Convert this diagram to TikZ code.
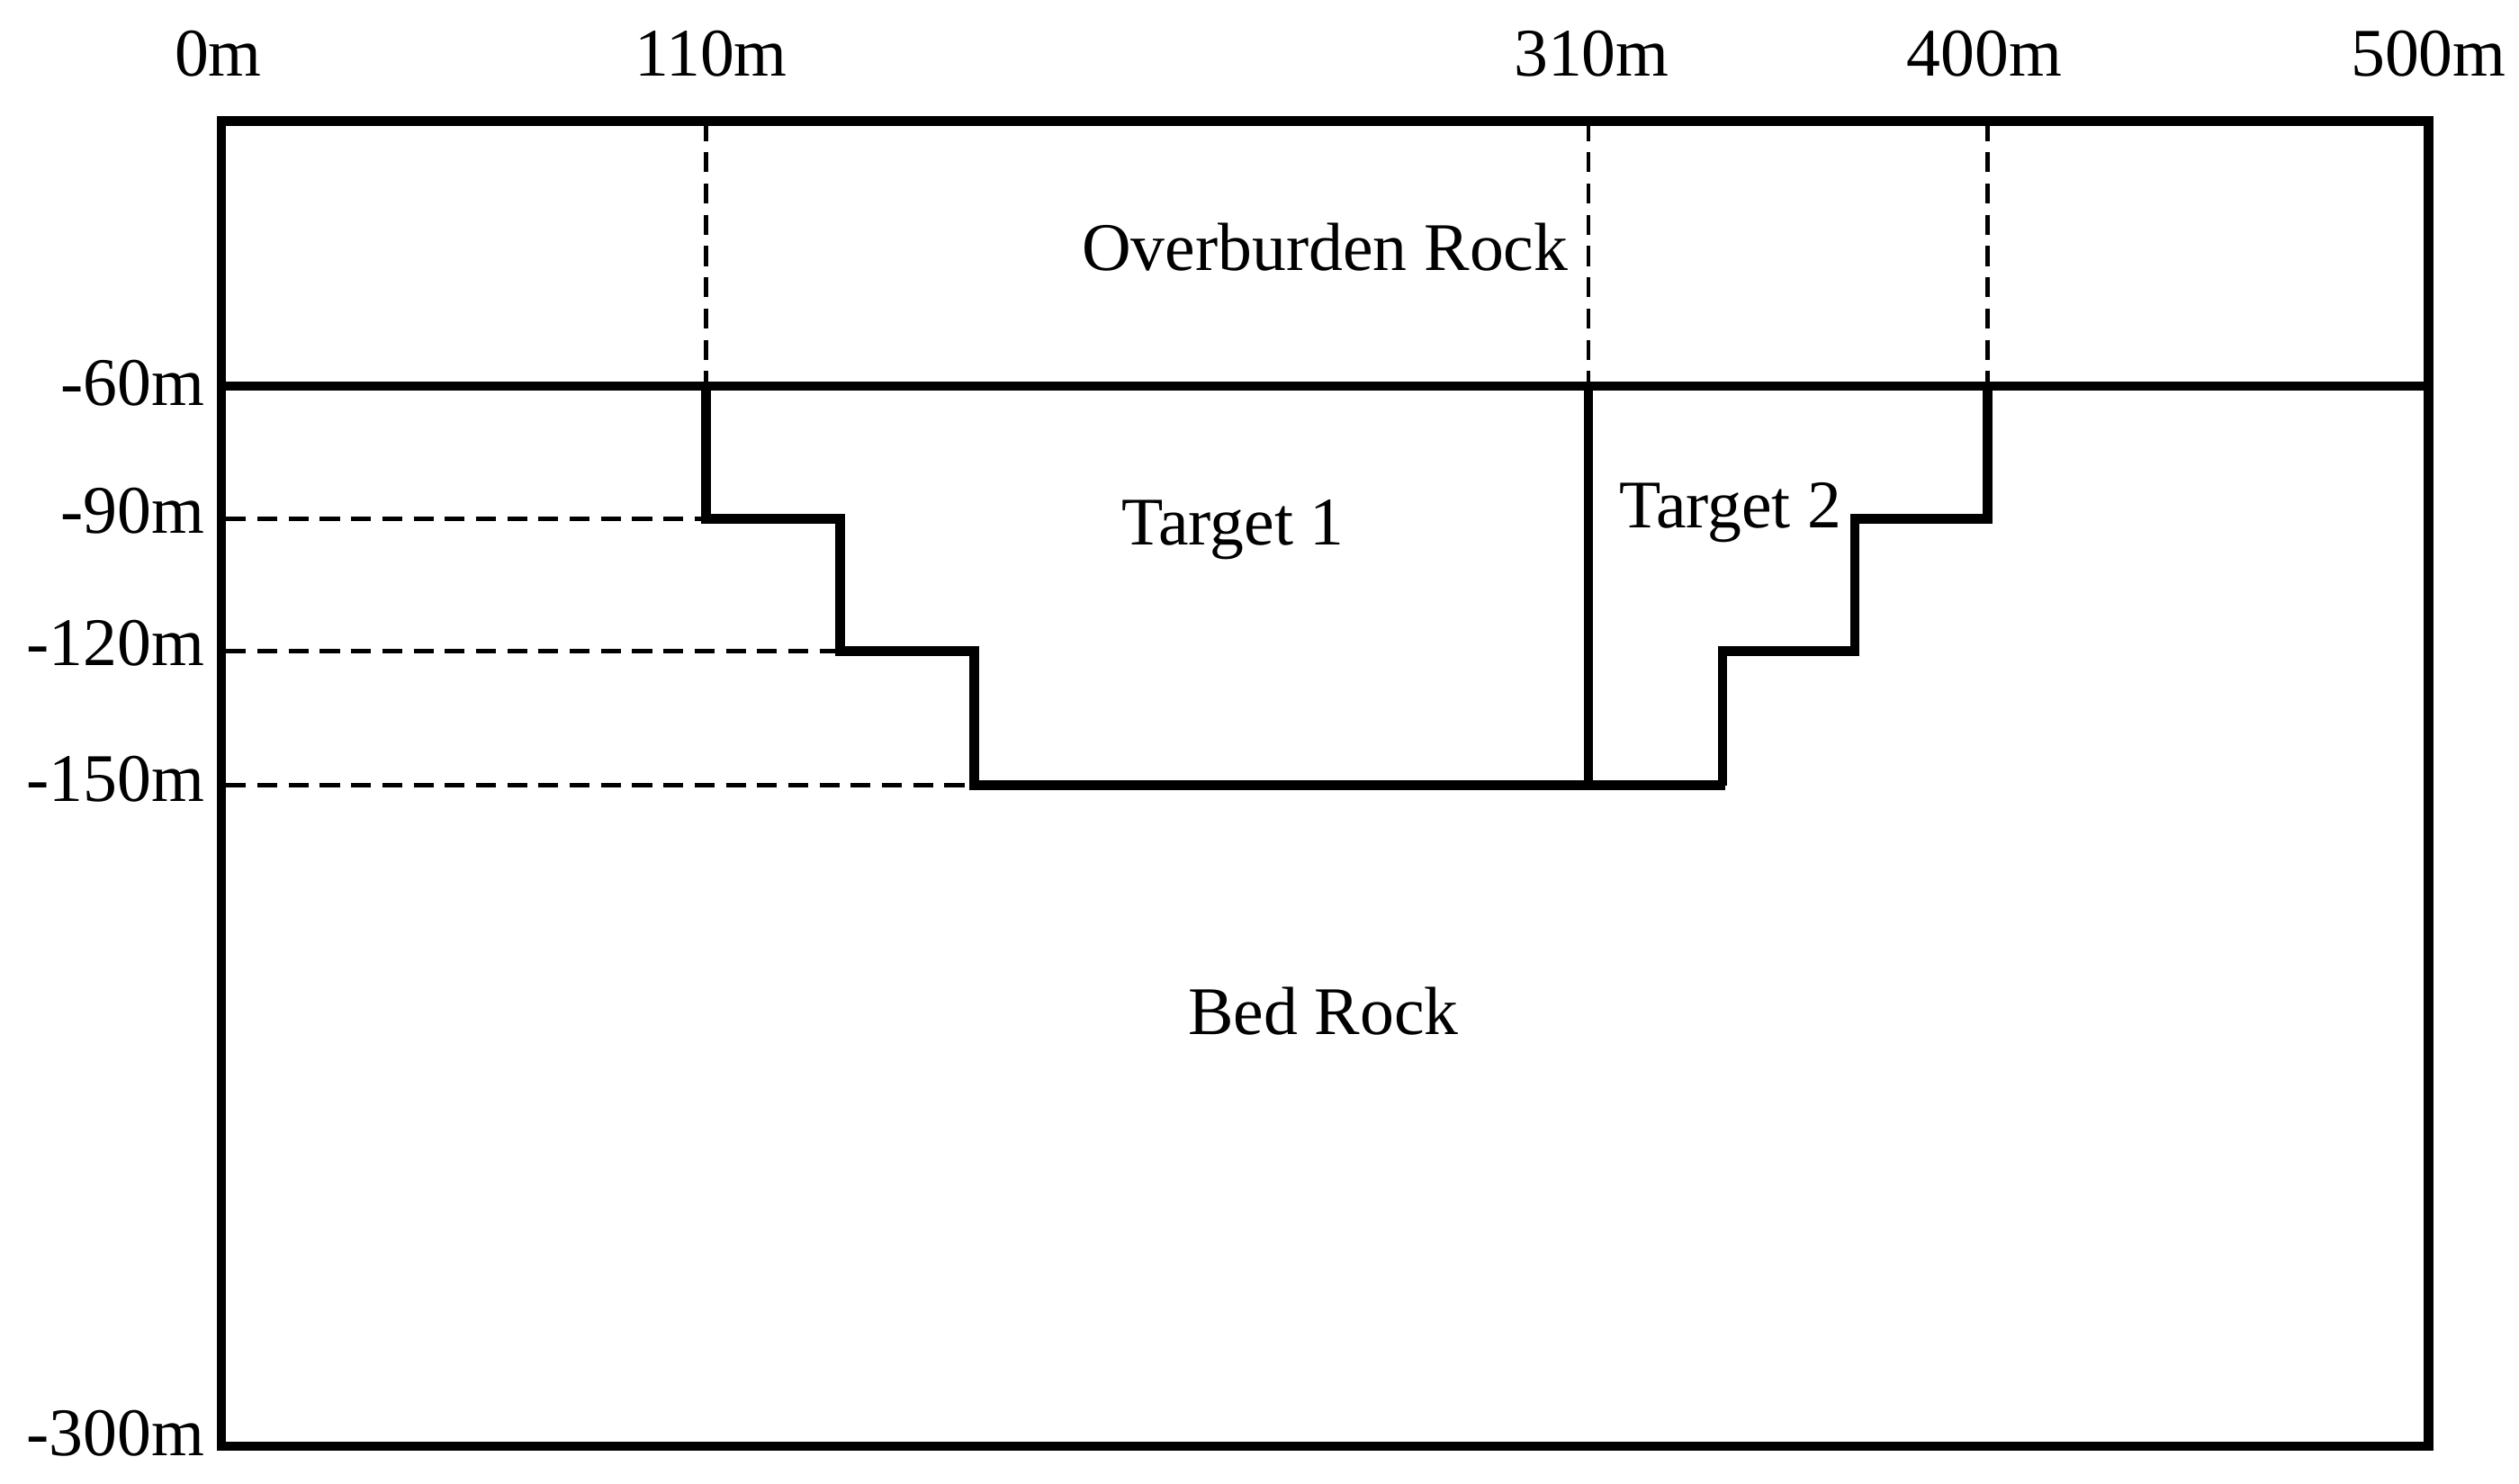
\documentclass[tikz,border=0pt]{standalone}
\usepackage{fontspec}
\setmainfont{Liberation Serif}
\begin{document}
\begin{tikzpicture}[x=0.02cm,y=-0.02cm,
  thick line/.style={line width=3.3pt,line join=miter},
  dash line/.style={line width=1.4pt,dash pattern=on 7pt off 4pt},
  lbl/.style={font=\fontsize{24}{28}\selectfont,inner sep=0pt}]
\useasboundingbox (0,0) rectangle (1559,918);
% coordinates
\coordinate (TL) at (137,75); \coordinate (TR) at (1503,75);
\coordinate (BL) at (137,895); \coordinate (BR) at (1503,895);
\coordinate (L60) at (137,239); \coordinate (R60) at (1503,239);
\draw[thick line] (TL) -- (TR) -- (BR) -- (BL) -- cycle;
\draw[thick line] (L60) -- (R60);
% target 1
\coordinate (a1) at (437,239); \coordinate (a2) at (437,321); \coordinate (a3) at (520,321);
\coordinate (a4) at (520,403); \coordinate (a5) at (603,403); \coordinate (a6) at (603,486);
\coordinate (a7) at (1068,486);
\draw[thick line] (a1) -- (a2) -- (a3) -- (a4) -- (a5) -- (a6) -- (a7);
\coordinate (m1) at (983,239); \coordinate (m2) at (983,486);
\draw[thick line] (m1) -- (m2);
% target 2
\coordinate (b1) at (1230,239); \coordinate (b2) at (1230,321); \coordinate (b3) at (1148,321);
\coordinate (b4) at (1148,403); \coordinate (b5) at (1066,403); \coordinate (b6) at (1066,486);
\draw[thick line] (b1) -- (b2) -- (b3) -- (b4) -- (b5) -- (b6);
% dashed
\coordinate (d1) at (437,75); \coordinate (d2) at (983,75); \coordinate (d3) at (1230,75);
\draw[dash line] (d1) -- (a1); \draw[dash line] (d2) -- (m1); \draw[dash line] (d3) -- (b1);
\coordinate (h1) at (140,321); \coordinate (h2) at (140,403); \coordinate (h3) at (140,486);
\draw[dash line] (h1) -- (a2); \draw[dash line] (h2) -- (a4); \draw[dash line] (h3) -- (a6);
% labels
\node[lbl] (x0) at (135,33) {0m};
\node[lbl] (x110) at (440,33) {110m};
\node[lbl] (x310) at (985,33) {310m};
\node[lbl] (x400) at (1228,33) {400m};
\node[lbl] (x500) at (1503,33) {500m};
\node[lbl,anchor=east] (y60) at (127,237) {-60m};
\node[lbl,anchor=east] (y90) at (127,316) {-90m};
\node[lbl,anchor=east] (y120) at (127,398) {-120m};
\node[lbl,anchor=east] (y150) at (127,482) {-150m};
\node[lbl,anchor=east] (y300) at (127,887) {-300m};
\node[lbl] (ob) at (820,153) {Overburden Rock};
\node[lbl] (t1) at (763,328) {Target 1};
\node[lbl] (t2) at (1071,317) {Target 2};
\node[lbl] (bed) at (819,626) {Bed Rock};
\end{tikzpicture}
\end{document}
